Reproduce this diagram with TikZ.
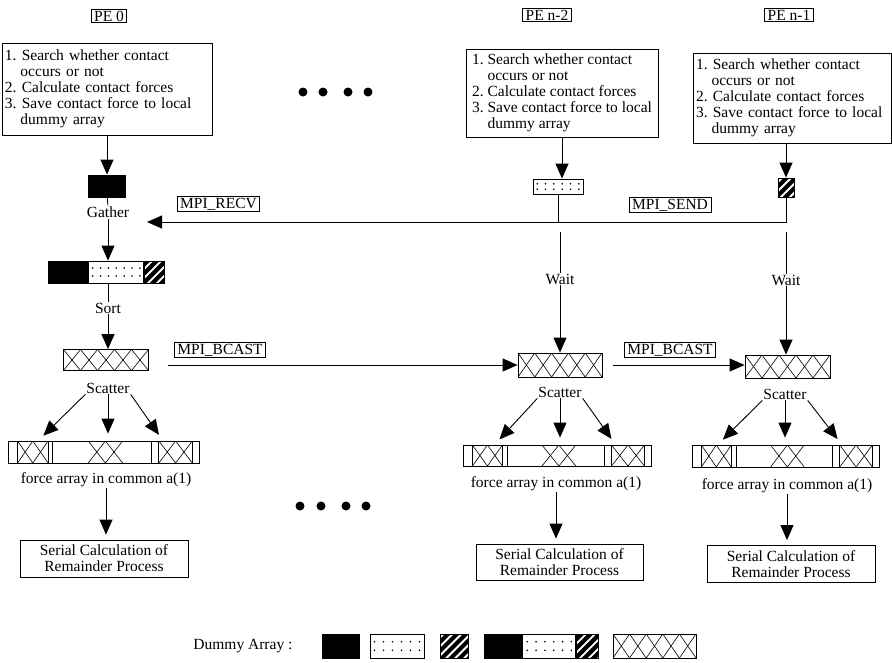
\documentclass[tikz,border=0pt]{standalone}
\usepackage{fontspec}
\setmainfont{Liberation Serif}
\usetikzlibrary{calc,positioning,arrows.meta}
\frenchspacing
\def\ppcorners{\coordinate (pa) at (path picture bounding box.south west);
	\coordinate (pb) at (path picture bounding box.south east);
	\coordinate (pc) at (path picture bounding box.north west);
	\coordinate (pd) at (path picture bounding box.north east);}
\tikzset{
	arrbox/.style={draw, line width=0.8pt, inner sep=0pt, minimum height=22pt},
	crossfill/.style={path picture={\ppcorners
		\foreach \k in {1,...,#1}{
			\draw[line width=0.6pt] ($(pa)!{(\k-1)/#1}!(pb)$) -- ($(pc)!{\k/#1}!(pd)$);
			\draw[line width=0.6pt] ($(pc)!{(\k-1)/#1}!(pd)$) -- ($(pa)!{\k/#1}!(pb)$);}}},
	dotfill/.style={path picture={\ppcorners
		\foreach \k in {1,...,#1}{
			\fill ($($(pc)!0.32!(pa)$)!{(\k-0.5)/#1}!($(pd)!0.32!(pb)$)$) circle (0.9pt);
			\fill ($($(pc)!0.68!(pa)$)!{(\k-0.5)/#1}!($(pd)!0.68!(pb)$)$) circle (0.9pt);}}},
	stripefill/.style={path picture={
		\foreach \k in {-4,...,4}
			\draw[line width=4.2pt] ($(path picture bounding box.center)+(\k*9-25,25)$) -- ++(50,-50);}},
	forcefill/.style={path picture={\ppcorners
		\foreach \fr in {0.05,0.21,0.235,0.75,0.79,0.965}
			\draw[line width=0.8pt] ($(pa)!\fr!(pb)$) -- ($(pc)!\fr!(pd)$);
		\foreach \fa/\fb in {0.05/0.21,0.42/0.60,0.79/0.965}{
			\draw[line width=0.6pt] ($(pa)!\fa!(pb)$) -- ($(pc)!{(\fa+\fb)/2}!(pd)$) -- ($(pa)!\fb!(pb)$);
			\draw[line width=0.6pt] ($(pc)!\fa!(pd)$) -- ($(pa)!{(\fa+\fb)/2}!(pb)$) -- ($(pc)!\fb!(pd)$);}}},
	flowarrow/.style={line width=0.9pt, -{Triangle[length=15pt,width=13pt]}},
	plainline/.style={line width=0.8pt},
	taskbox/.style={draw, line width=0.8pt, align=left, inner xsep=3pt, inner ysep=3pt},
	pelabel/.style={draw, line width=0.8pt, inner xsep=3pt, inner ysep=1.5pt},
	mpilabel/.style={draw, line width=0.8pt, inner xsep=3pt, inner ysep=1pt},
	steptext/.style={inner sep=1pt},
	serialbox/.style={draw, line width=0.8pt, align=center, minimum width=168pt, minimum height=37pt, inner sep=1pt}
}

\begin{document}
\begin{tikzpicture}[x=1pt, y=-1pt, font=\fontsize{15.5}{16}\selectfont]
	\useasboundingbox (0,0) rectangle (892,662);
	%%%%% PE 0 %%%%%
	\node[pelabel] (pe0) at (109,16) {PE 0};
	\node[taskbox, text width=204pt, minimum height=92pt] (box1) at (107,89) {1. Search whether contact\\\hspace*{1em}occurs or not\\2. Calculate contact forces\\3. Save contact force to local\\\hspace*{1em}dummy array};
	\node[arrbox, fill=black, minimum width=37pt] (blk1) at (107,186) {};
	\node[steptext] (gather) at (108,212) {Gather};
	\coordinate (recvtip) at (147,222);
	\node[arrbox, fill=black, minimum width=40pt] (gblk) at (68,272) {};
	\node[arrbox, dotfill=7, minimum width=55pt, right=0pt of gblk] (gdot) {};
	\node[arrbox, stripefill, minimum width=20pt, right=0pt of gdot] (gstr) {};
	\node[steptext] (sort) at (108,308) {Sort};
	\node[arrbox, crossfill=5, minimum width=85pt, minimum height=21pt] (cross1) at (106,360) {};
	\node[steptext] (scat1) at (108,388) {Scatter};
	\node[arrbox, forcefill, minimum width=191pt] (frc1) at (103.5,452) {};
	\node[steptext] (txt1) at (106,480) {force array in common a(1)};
	\node[serialbox] (ser1) at (104,558.5) {Serial Calculation of\\Remainder Process};
	\node[mpilabel] (recv) at (218.5,204) {MPI\_RECV};
	\node[mpilabel] (bcast1) at (220,350) {MPI\_BCAST};
	
	%%%%% PE n-2 %%%%%
	\node[pelabel] (pen2) at (547,15) {PE n-2};
	\node[taskbox, minimum width=192pt, minimum height=88pt] (box2) at (562,93) {1. Search whether contact\\\hspace*{1em}occurs or not\\2. Calculate contact forces\\3. Save contact force to local\\\hspace*{1em}dummy array};
	\node[arrbox, dotfill=6, minimum width=50pt, minimum height=15pt] (dot2) at (558,186.5) {};
	\node[mpilabel] (send) at (670,205) {MPI\_SEND};
	\coordinate (w2top) at (560,232);
	\node[steptext] (wait2) at (560,279) {Wait};
	\node[arrbox, crossfill=5, minimum width=84pt, minimum height=24pt] (cross2) at (560,365) {};
	\node[steptext] (scat2) at (560,392) {Scatter};
	\node[arrbox, forcefill, minimum width=188pt, minimum height=21pt] (frc2) at (557,455.5) {};
	\node[steptext] (txt2) at (556,484) {force array in common a(1)};
	\node[serialbox, minimum width=167pt, minimum height=36pt] (ser2) at (559.5,562) {Serial Calculation of\\Remainder Process};
	\node[mpilabel] (bcast2) at (670,350) {MPI\_BCAST};
	
	%%%%% PE n-1 %%%%%
	\node[pelabel] (pen1) at (789,15) {PE n-1};
	\node[taskbox, text width=192pt, minimum height=90pt] (box3) at (792,98) {1. Search whether contact\\\hspace*{1em}occurs or not\\2. Calculate contact forces\\3. Save contact force to local\\\hspace*{1em}dummy array};
	\node[arrbox, stripefill, minimum width=16pt, minimum height=19pt] (hatch3) at (786,187.5) {};
	\coordinate (w3top) at (786,232);
	\node[steptext] (wait3) at (786,280) {Wait};
	\node[arrbox, crossfill=5, minimum width=85pt, minimum height=23pt] (cross3) at (787.5,366.5) {};
	\node[steptext] (scat3) at (785,394) {Scatter};
	\node[arrbox, forcefill, minimum width=187pt] (frc3) at (785.5,456) {};
	\node[steptext] (txt3) at (787,486) {force array in common a(1)};
	\node[serialbox] (ser3) at (791,564) {Serial Calculation of\\Remainder Process};
	
	%%%%% dots %%%%%
	\fill (303,92) circle (4.5pt);
	\fill (323,92) circle (4.5pt);
	\fill (348,92) circle (4.5pt);
	\fill (368,92) circle (4.5pt);
	\fill (300,506) circle (4.5pt);
	\fill (321,506) circle (4.5pt);
	\fill (346,506) circle (4.5pt);
	\fill (366,506) circle (4.5pt);
	
	%%%%% connectors %%%%%
	\draw[flowarrow] (box1) -- (blk1);
	\draw[plainline] (blk1) -- (gather);
	\draw[flowarrow] (box2.south) -- (box2.south |- dot2.north);
	\draw[flowarrow] (hatch3 |- box3.south) -- (hatch3.north);
	\draw[flowarrow] (hatch3.south) |- (recvtip);
	\draw[plainline] (dot2.south) -- (dot2.south |- recvtip);
	\draw[flowarrow] (gather.south) -- (gather.south |- gdot.north);
	\draw[plainline] (sort.north |- gdot.south) -- (sort.north);
	\draw[flowarrow] (sort.south) -- (sort.south |- cross1.north);
	\draw[plainline] (w2top) -- (wait2);
	\draw[flowarrow] (wait2) -- (cross2);
	\draw[plainline] (w3top) -- (wait3);
	\draw[flowarrow] (wait3.south) -- (wait3.south |- cross3.north);
	\draw[flowarrow, shorten <=19pt] (cross1.east |- cross2.west) -- (cross2.west);
	\draw[flowarrow, shorten <=11pt] (cross2.east) -- (cross2.east -| cross3.west);
	
	\draw[flowarrow, shorten >=7pt] (scat1.south west) -- ($(frc1.north west)!0.16!(frc1.north east)$);
	\draw[flowarrow, shorten >=7pt] (scat1.south) -- (scat1.south |- frc1.north);
	\draw[flowarrow, shorten >=7pt] (scat1.south east) -- ($(frc1.north west)!0.81!(frc1.north east)$);
	\draw[flowarrow, shorten >=5pt] (txt1.south) -- (txt1.south |- ser1.north);
	
	\draw[flowarrow, shorten >=7pt] (scat2.south west) -- ($(frc2.north west)!0.17!(frc2.north east)$);
	\draw[flowarrow, shorten >=7pt] (scat2.south) -- (scat2.south |- frc2.north);
	\draw[flowarrow, shorten >=7pt] (scat2.south east) -- ($(frc2.north west)!0.81!(frc2.north east)$);
	\draw[flowarrow, shorten >=5pt] (txt2.south) -- (txt2.south |- ser2.north);
	
	\draw[flowarrow, shorten >=7pt] (scat3.south west) -- ($(frc3.north west)!0.14!(frc3.north east)$);
	\draw[flowarrow, shorten >=7pt] (scat3.south) -- (scat3.south |- frc3.north);
	\draw[flowarrow, shorten >=7pt] (scat3.south east) -- ($(frc3.north west)!0.80!(frc3.north east)$);
	\draw[flowarrow, shorten >=5pt] (txt3.south) -- (txt3.south |- ser3.north);
	
	%%%%% legend %%%%%
	\node[anchor=east] (dummy) at (296,646) {Dummy Array :};
	\node[arrbox, fill=black, minimum width=37pt, minimum height=24pt] (lblk) at (340.5,646) {};
	\node[arrbox, dotfill=6, minimum width=54pt, minimum height=24pt] (ldot) at (397,646) {};
	\node[arrbox, stripefill, minimum width=28pt, minimum height=24pt] (lstr) at (454,646) {};
	\node[arrbox, fill=black, minimum width=38pt, minimum height=24pt] (lgblk) at (503,646) {};
	\node[arrbox, dotfill=6, minimum width=53pt, minimum height=24pt, right=0pt of lgblk] (lgdot) {};
	\node[arrbox, stripefill, minimum width=22pt, minimum height=24pt, right=0pt of lgdot] (lgstr) {};
	\node[arrbox, crossfill=5, minimum width=83pt, minimum height=24pt] (lcross) at (654.5,646) {};
\end{tikzpicture}
\end{document}
